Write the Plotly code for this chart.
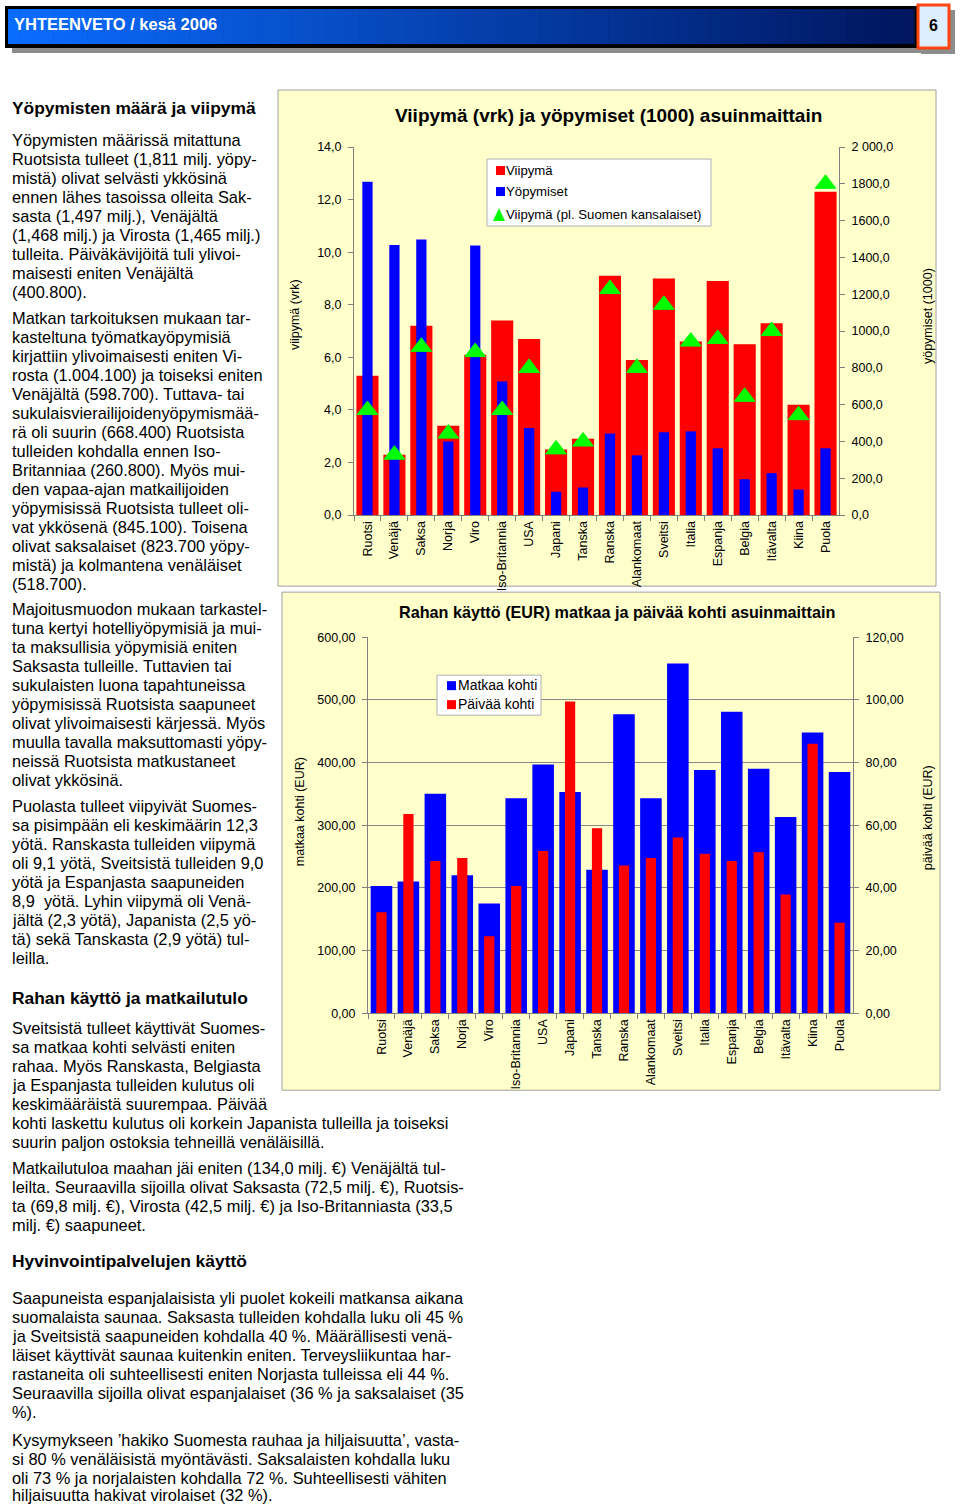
import plotly.graph_objects as go

# ---------------- data ----------------
countries = ["Ruotsi", "Venäjä", "Saksa", "Norja", "Viro", "Iso-Britannia", "USA", "Japani",
             "Tanska", "Ranska", "Alankomaat", "Sveitsi", "Italia", "Espanja", "Belgia",
             "Itävalta", "Kiina", "Puola"]
viipyma = [5.3, 2.3, 7.2, 3.4, 6.1, 7.4, 6.7, 2.5, 2.9, 9.1, 5.9, 9.0, 6.6, 8.9, 6.5, 7.3, 4.2, 12.3]
yopymiset = [1811, 1468, 1497, 400, 1465, 726, 474, 127, 150, 443, 325, 450, 455, 363, 195, 228, 139, 363]
viipyma_pl = [4.0, 2.3, 6.4, 3.1, 6.2, 4.0, 5.6, 2.5, 2.8, 8.6, 5.6, 8.0, 6.6, 6.7, 4.5, 7.0, 3.8, 12.6]
matkaa_kohti = [203, 210, 350, 220, 175, 343, 397, 353, 229, 477, 343, 558, 388, 481, 390, 313, 448, 385]
paivaa_kohti = [32.2, 63.6, 48.6, 49.5, 24.6, 40.6, 51.8, 99.5, 59.0, 47.1, 49.5, 56.1, 50.9, 48.6, 51.4, 37.9, 86.0, 28.9]

y1_ticks = [0, 2, 4, 6, 8, 10, 12, 14]
y1_text = ["0,0", "2,0", "4,0", "6,0", "8,0", "10,0", "12,0", "14,0"]
y2_ticks = [0, 200, 400, 600, 800, 1000, 1200, 1400, 1600, 1800, 2000]
y2_text = ["0,0", "200,0", "400,0", "600,0", "800,0", "1000,0", "1200,0", "1400,0", "1600,0", "1800,0", "2 000,0"]
y3_ticks = [0, 100, 200, 300, 400, 500, 600]
y3_text = ["0,00", "100,00", "200,00", "300,00", "400,00", "500,00", "600,00"]
y4_ticks = [0, 20, 40, 60, 80, 100, 120]
y4_text = ["0,00", "20,00", "40,00", "60,00", "80,00", "100,00", "120,00"]

legend1_names = ["Viipymä", "Yöpymiset", "Viipymä (pl. Suomen kansalaiset)"]
legend2_names = ["Matkaa kohti", "Päivää kohti"]

RED, BLUE, GREEN = "#FF0000", "#0000FF", "#00FF00"
FONT = "Liberation Sans, Arial, sans-serif"
W, H = 960, 1509
# the photographed page is slightly offset/compressed vertically; compensate
SY_A, SY_B = 0.9905, 7.0


def px(x):
    return x / W


def py(y):
    return 1 - ((y - SY_B) / SY_A) / H


fig = go.Figure()

# ---------------- chart 1 ----------------
fig.add_trace(go.Bar(x=countries, y=viipyma, name=legend1_names[0], marker=dict(color=RED, line=dict(width=0)),
                     width=0.82, xaxis="x", yaxis="y"))
fig.add_trace(go.Bar(x=countries, y=yopymiset, name=legend1_names[1], marker=dict(color=BLUE, line=dict(width=0)),
                     width=0.38, xaxis="x", yaxis="y2"))
fig.add_trace(go.Scatter(x=countries, y=viipyma_pl, mode="markers", name=legend1_names[2],
                         marker=dict(symbol="triangle-up", size=18, color=GREEN, line=dict(width=1, color=GREEN)),
                         xaxis="x", yaxis="y5"))

# ---------------- chart 2 ----------------
fig.add_trace(go.Bar(x=countries, y=matkaa_kohti, name=legend2_names[0], marker=dict(color=BLUE, line=dict(width=0)),
                     width=0.8, xaxis="x2", yaxis="y3"))
fig.add_trace(go.Bar(x=countries, y=paivaa_kohti, name=legend2_names[1], marker=dict(color=RED, line=dict(width=0)),
                     width=0.38, xaxis="x2", yaxis="y4"))

tickfont = dict(family=FONT, size=12.5, color="black")
c1x = [px(354), px(839)]
c1y = [py(515), py(147)]
c2x = [px(368), px(853)]
c2y = [py(1013), py(637)]

axis_common = dict(showline=True, linecolor="#808080", linewidth=1, ticks="outside", ticklen=5,
                   tickcolor="#808080", tickfont=tickfont, showgrid=False, zeroline=False, fixedrange=True)

fig.update_layout(
    width=W, height=H, autosize=False,
    margin=dict(l=0, r=0, t=0, b=0),
    paper_bgcolor="white", plot_bgcolor="#C0C0C0",
    barmode="overlay",
    showlegend=False,
    hovermode=False,
    font=dict(family=FONT, color="black"),
    xaxis=dict(domain=c1x, anchor="y", type="category", range=[-0.5, 17.5], tickangle=-90,
               tickson="boundaries", **axis_common),
    yaxis=dict(domain=c1y, anchor="x", range=[0, 14], tickvals=y1_ticks, ticktext=y1_text,
               ticklabelstandoff=4, **axis_common),
    yaxis2=dict(overlaying="y", anchor="x", side="right", range=[0, 2000], tickvals=y2_ticks, ticktext=y2_text,
                ticklabelstandoff=4, **axis_common),
    yaxis5=dict(overlaying="y", anchor="x", range=[0, 14], visible=False, fixedrange=True),
    xaxis2=dict(domain=c2x, anchor="y3", type="category", range=[-0.5, 17.5], tickangle=-90,
                tickson="boundaries", **axis_common),
    yaxis3=dict(domain=c2y, anchor="x2", range=[0, 600], tickvals=y3_ticks, ticktext=y3_text,
                ticklabelstandoff=4, **{**axis_common, "showgrid": True}, gridcolor="#8A8A8A", gridwidth=1),
    yaxis4=dict(overlaying="y3", anchor="x2", side="right", range=[0, 120], tickvals=y4_ticks, ticktext=y4_text,
                ticklabelstandoff=4, **axis_common),
)


def rect(x0, y0, x1, y1, fill, line=None, layer="below"):
    return dict(type="rect", xref="paper", yref="paper", x0=px(x0), x1=px(x1), y0=py(y1), y1=py(y0),
                fillcolor=fill, line=line or dict(width=0), layer=layer)


shapes = []
# ---------------- header ----------------
shapes.append(rect(12, 13, 922, 53, "#8C8C8C"))
shapes.append(rect(5, 6, 917, 48, "#000000"))
n = 80
x_start, x_end = 8, 914
c0 = (10, 108, 255)
c1 = (0, 22, 95)
for i in range(n):
    t = i / (n - 1)
    col = tuple(int(round(c0[k] + (c1[k] - c0[k]) * t)) for k in range(3))
    xa = x_start + (x_end - x_start) * i / n
    xb = x_start + (x_end - x_start) * (i + 1) / n + 0.6
    shapes.append(rect(xa, 9, xb, 44, "rgb(%d,%d,%d)" % col))
shapes.append(rect(921, 10, 955, 54, "#8C8C8C"))
shapes.append(rect(918, 5, 949, 48, "#DDEEFF", dict(width=3, color="#FF4411")))

# ---------------- chart panels ----------------
shapes.append(rect(278, 90, 936, 586, "#FFFFCC", dict(width=1, color="#A0A0A0")))
shapes.append(rect(282, 592, 940, 1090, "#FFFFCC", dict(width=1, color="#A0A0A0")))

# ---------------- custom legends ----------------
shapes.append(rect(487, 159, 711, 226, "white", dict(width=1, color="#B0B0B0"), layer="above"))
shapes.append(rect(496, 166, 505, 175, RED, layer="above"))
shapes.append(rect(496, 187, 505, 196, BLUE, layer="above"))
shapes.append(dict(type="path", xref="paper", yref="paper",
                   path="M %f,%f L %f,%f L %f,%f Z" % (px(493), py(221), px(505), py(221), px(499), py(208)),
                   fillcolor=GREEN, line=dict(width=0), layer="above"))
shapes.append(rect(437, 675, 541, 715, "white", dict(width=1, color="#B0B0B0"), layer="above"))
shapes.append(rect(447, 681, 456, 690, BLUE, layer="above"))
shapes.append(rect(447, 700, 456, 709, RED, layer="above"))
fig.update_layout(shapes=shapes)


def ann(x, y, text, size=15, bold=False, color="black", anchor="left", angle=0, yanchor="middle"):
    if bold:
        text = "<b>" + text + "</b>"
    fig.add_annotation(x=px(x), y=py(y), xref="paper", yref="paper", text=text, showarrow=False,
                       xanchor=anchor, yanchor=yanchor, textangle=angle, borderpad=0,
                       font=dict(family=FONT, size=size, color=color))


def lines(y0, items, dy=19, x=11, size=16.4):
    for i, t in enumerate(items):
        ann(x, y0 + i * dy, t, size=size)


# legend texts
ann(505, 170, legend1_names[0], size=13.2)
ann(505, 191, legend1_names[1], size=13.2)
ann(505, 214, legend1_names[2], size=13.2)
ann(457, 685, legend2_names[0], size=14)
ann(457, 704, legend2_names[1], size=14)

# header text
ann(13, 24, "YHTEENVETO / kesä 2006", size=16.5, bold=True, color="white")
ann(933, 25, "6", size=16, bold=True, anchor="center")

# chart titles and axis titles
ann(608, 115, "Viipymä (vrk) ja yöpymiset (1000) asuinmaittain", size=19, bold=True, anchor="center")
ann(617, 612, "Rahan käyttö (EUR) matkaa ja päivää kohti asuinmaittain", size=16.2, bold=True, anchor="center")
ann(295, 315, "viipymä (vrk)", size=12.5, anchor="center", angle=-90)
ann(928, 316, "yöpymiset (1000)", size=12.5, anchor="center", angle=-90)
ann(300, 812, "matkaa kohti (EUR)", size=12.5, anchor="center", angle=-90)
ann(928, 818, "päivää kohti (EUR)", size=12.5, anchor="center", angle=-90)

# ---------------- body text ----------------
ann(11, 108, "Yöpymisten määrä ja viipymä", size=17.4, bold=True)
lines(140, [
    "Yöpymisten määrissä mitattuna",
    "Ruotsista tulleet (1,811 milj. yöpy-",
    "mistä) olivat selvästi ykkösinä",
    "ennen lähes tasoissa olleita Sak-",
    "sasta (1,497 milj.), Venäjältä",
    "(1,468 milj.) ja Virosta (1,465 milj.)",
    "tulleita. Päiväkävijöitä tuli ylivoi-",
    "maisesti eniten Venäjältä",
    "(400.800).",
])
lines(318, [
    "Matkan tarkoituksen mukaan tar-",
    "kasteltuna työmatkayöpymisiä",
    "kirjattiin ylivoimaisesti eniten Vi-",
    "rosta (1.004.100) ja toiseksi eniten",
    "Venäjältä (598.700). Tuttava- tai",
    "sukulaisvierailijoidenyöpymismää-",
    "rä oli suurin (668.400) Ruotsista",
    "tulleiden kohdalla ennen Iso-",
    "Britanniaa (260.800). Myös mui-",
    "den vapaa-ajan matkailijoiden",
    "yöpymisissä Ruotsista tulleet oli-",
    "vat ykkösenä (845.100). Toisena",
    "olivat saksalaiset (823.700 yöpy-",
    "mistä) ja kolmantena venäläiset",
    "(518.700).",
])
lines(609, [
    "Majoitusmuodon mukaan tarkastel-",
    "tuna kertyi hotelliyöpymisiä ja mui-",
    "ta maksullisia yöpymisiä eniten",
    "Saksasta tulleille. Tuttavien tai",
    "sukulaisten luona tapahtuneissa",
    "yöpymisissä Ruotsista saapuneet",
    "olivat ylivoimaisesti kärjessä. Myös",
    "muulla tavalla maksuttomasti yöpy-",
    "neissä Ruotsista matkustaneet",
    "olivat ykkösinä.",
])
lines(806, [
    "Puolasta tulleet viipyivät Suomes-",
    "sa pisimpään eli keskimäärin 12,3",
    "yötä. Ranskasta tulleiden viipymä",
    "oli 9,1 yötä, Sveitsistä tulleiden 9,0",
    "yötä ja Espanjasta saapuneiden",
    "8,9  yötä. Lyhin viipymä oli Venä-",
    "jältä (2,3 yötä), Japanista (2,5 yö-",
    "tä) sekä Tanskasta (2,9 yötä) tul-",
    "leilla.",
])
ann(11, 998, "Rahan käyttö ja matkailutulo", size=17.4, bold=True)
lines(1028, [
    "Sveitsistä tulleet käyttivät Suomes-",
    "sa matkaa kohti selvästi eniten",
    "rahaa. Myös Ranskasta, Belgiasta",
    "ja Espanjasta tulleiden kulutus oli",
    "keskimääräistä suurempaa. Päivää",
    "kohti laskettu kulutus oli korkein Japanista tulleilla ja toiseksi",
    "suurin paljon ostoksia tehneillä venäläisillä.",
])
lines(1168, [
    "Matkailutuloa maahan jäi eniten (134,0 milj. €) Venäjältä tul-",
    "leilta. Seuraavilla sijoilla olivat Saksasta (72,5 milj. €), Ruotsis-",
    "ta (69,8 milj. €), Virosta (42,5 milj. €) ja Iso-Britanniasta (33,5",
    "milj. €) saapuneet.",
])
ann(11, 1261, "Hyvinvointipalvelujen käyttö", size=17.4, bold=True)
lines(1298, [
    "Saapuneista espanjalaisista yli puolet kokeili matkansa aikana",
    "suomalaista saunaa. Saksasta tulleiden kohdalla luku oli 45 %",
    "ja Sveitsistä saapuneiden kohdalla 40 %. Määrällisesti venä-",
    "läiset käyttivät saunaa kuitenkin eniten. Terveysliikuntaa har-",
    "rastaneita oli suhteellisesti eniten Norjasta tulleissa eli 44 %.",
    "Seuraavilla sijoilla olivat espanjalaiset (36 % ja saksalaiset (35",
    "%).",
])
lines(1440, [
    "Kysymykseen ’hakiko Suomesta rauhaa ja hiljaisuutta’, vasta-",
    "si 80 % venäläisistä myöntävästi. Saksalaisten kohdalla luku",
    "oli 73 % ja norjalaisten kohdalla 72 %. Suhteellisesti vähiten",
], dy=19)
ann(11, 1495, "hiljaisuutta hakivat virolaiset (32 %).", size=16.4)

post = ("var d=document.getElementById('{plot_id}');"
        "d.style.position='absolute';d.style.top='0px';d.style.left='0px';"
        "document.documentElement.style.margin='0';document.body.style.margin='0';"
        "document.body.style.padding='0';"
        "document.documentElement.style.overflow='hidden';document.body.style.overflow='hidden';")

fig.write_html("out.html", config={"displayModeBar": False, "staticPlot": True}, post_script=post)
